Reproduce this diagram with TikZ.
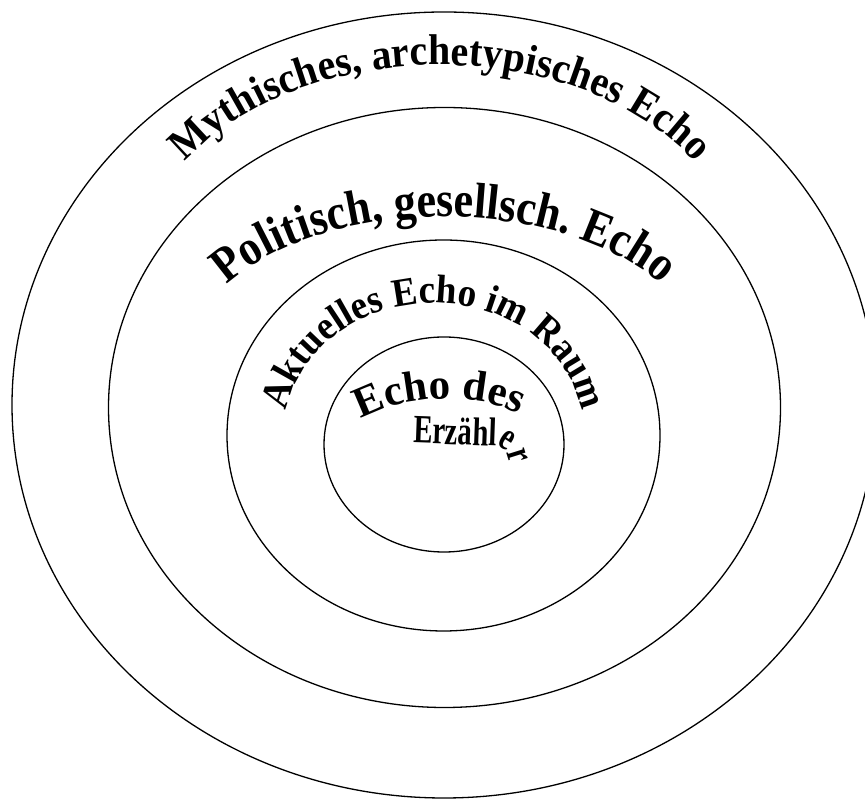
\documentclass[tikz,border=0pt]{standalone}
\usepackage{fontspec}
\setmainfont{Liberation Serif}
\newfontfamily\tallfont[FakeStretch=0.93]{Liberation Serif}
\newfontfamily\polfont[FakeStretch=0.88]{Liberation Serif}
\newfontfamily\narrowfont[FakeStretch=0.72]{Liberation Serif}
\usetikzlibrary{decorations.text}
\begin{document}
\begin{tikzpicture}[x=1pt,y=1pt,
  ring/.style={draw=black, line width=1.3pt}]
\useasboundingbox (0,0) rectangle (865,800);
\clip (0,0) rectangle (865,800);
\fill[white] (0,0) rectangle (865,800);
% rings
\draw[ring] (444,395) ellipse [x radius=432, y radius=393];
\draw[ring] (444.5,392.5) ellipse [x radius=336, y radius=300];
\draw[ring] (443.5,364.5) ellipse [x radius=216.5, y radius=195.5];
\draw[ring] (444,355.5) ellipse [x radius=120, y radius=107.5];
% texts
\path[decorate, decoration={text along path, text align=center,
  text={|\tallfont\fontsize{43}{45}\selectfont\bfseries|Mythisches, archetypisches Echo}}]
  (440,529) ++(178:300 and 206) arc[start angle=178, end angle=2, x radius=300, y radius=206];
\path[decorate, decoration={text along path, text align=center,
  text={|\polfont\fontsize{50}{52}\selectfont\bfseries|Politisch, gesellsch. Echo}}]
  (444,443) ++(178:253 and 140) arc[start angle=178, end angle=2, x radius=253, y radius=140];
\path[decorate, decoration={text along path, text align=center,
  text={|\tallfont\fontsize{40}{42}\selectfont\bfseries|Aktuelles Echo im Raum}}]
  (434,366) ++(190:150 and 131) arc[start angle=190, end angle=-10, x radius=150, y radius=131];
\path[decorate, decoration={text along path, text align=center,
  text={|\fontsize{43}{45}\selectfont\bfseries|Echo des}}]
  (348,373) .. controls (400,409) and (485,411) .. (532,378);
\path[decorate, decoration={text along path, text align=left,
  text={|\narrowfont\fontsize{40}{42}\selectfont\bfseries|Erzähler}}]
  (413,357) -- (497,354) .. controls (506,353) and (512,346) .. (514,300);
\end{tikzpicture}
\end{document}
